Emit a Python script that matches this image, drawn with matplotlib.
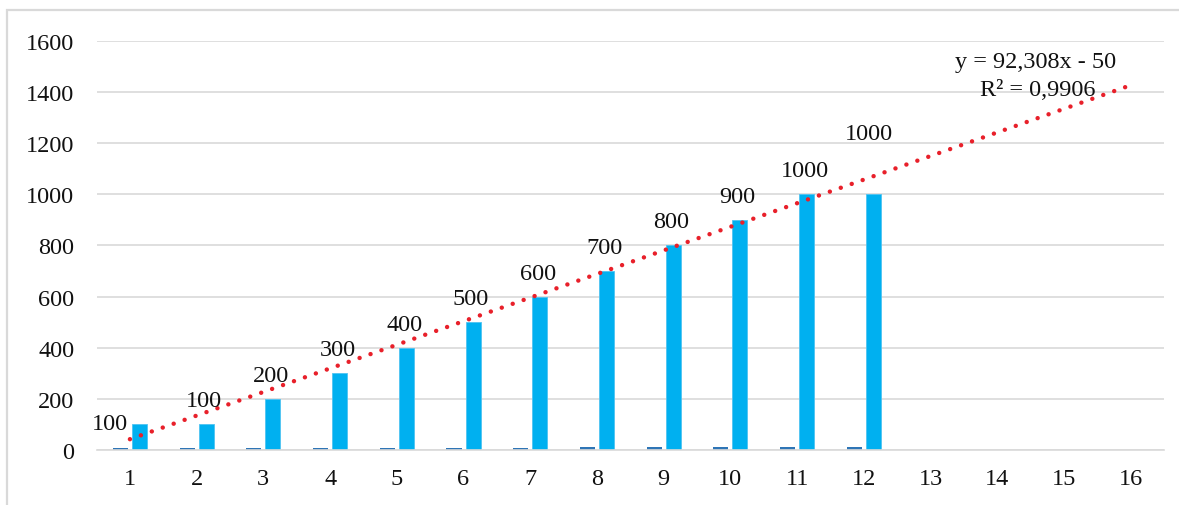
import matplotlib
matplotlib.use("Agg")
import matplotlib.pyplot as plt
from matplotlib.patches import Rectangle
import numpy as np

# data
categories = list(range(1, 17))
small_values = [7, 7, 7, 7, 7, 7, 7, 12, 12, 12, 12, 12]
main_values = [100, 100, 200, 300, 400, 500, 600, 700, 800, 900, 1000, 1000]
y_ticks = [0, 200, 400, 600, 800, 1000, 1200, 1400, 1600]

plt.rcParams['font.family'] = ['Liberation Serif', 'DejaVu Serif']
FS = 17.5

fig = plt.figure(figsize=(11.79, 5.06), dpi=100)
ax = fig.add_axes([0.0819, 0.1087, 0.9054, 0.8083])

# chart area border (top + left visible in reference)
fig.patches.append(Rectangle((7 / 1179, -0.1), 1.2, 1.1 - 11 / 506,
                             transform=fig.transFigure, fill=False,
                             edgecolor='#d9d9d9', linewidth=1.6))

xs_small = np.arange(1, len(small_values) + 1)
xs_main = np.arange(1, len(main_values) + 1)
w = 0.225
off = 0.1425

ax.bar(xs_small - off, small_values, width=w, color='#2E75B6', zorder=2)
ax.bar(xs_main + off, main_values, width=w, color='#00B0F0',
       edgecolor='#4fc3f2', linewidth=0.6, zorder=2)

# data labels above the cyan bars
for i, v in enumerate(main_values):
    dx, dy = -1.5, 17
    if i == 0:
        dx, dy = -21, 1
    elif i == len(main_values) - 1:
        dx, dy = -3.5, 44
    ax.annotate(str(v), (xs_main[i] + off, v), xytext=(dx, dy),
                textcoords='offset points', ha='center', va='center',
                fontsize=FS, color='#111111', zorder=4)

# linear trendline, forecast forward to the last category
slope, intercept = np.polyfit(xs_main, main_values, 1)
pred = slope * xs_main + intercept
ss_res = np.sum((np.array(main_values) - pred) ** 2)
ss_tot = np.sum((np.array(main_values) - np.mean(main_values)) ** 2)
r2 = 1 - ss_res / ss_tot
xt = np.array([1, categories[-1]])
ax.plot(xt, slope * xt + intercept, color='#E8202A', linewidth=3.2,
        linestyle=(0, (0.01, 2.6)), dash_capstyle='round', zorder=3)

sign = '-' if intercept < 0 else '+'
eq = f"y = {slope:.3f}x {sign} {abs(intercept):.0f}".replace('.', ',')
r2_txt = f"R² = {r2:.4f}".replace('.', ',')
ax.text(14.58, 1518, eq, ha='center', va='center', fontsize=FS,
        color='#111111', zorder=4)
ax.text(14.6, 1412, r2_txt, ha='center', va='center', fontsize=FS,
        color='#111111', zorder=4)

ax.set_xlim(0.5, 16.5)
ax.set_ylim(0, 1600)
ax.set_xticks(categories)
ax.set_yticks(y_ticks)
ax.tick_params(axis='both', length=0, labelsize=FS, colors='#111111')
ax.tick_params(axis='y', pad=16)
ax.tick_params(axis='x', pad=13)
ax.grid(axis='y', color='#d9d9d9', linewidth=1.2, zorder=0)
ax.set_axisbelow(True)
for s in ['top', 'right', 'left']:
    ax.spines[s].set_visible(False)
ax.spines['bottom'].set_color('#d9d9d9')
ax.spines['bottom'].set_linewidth(1.2)

fig.savefig('out.png', dpi=100)
